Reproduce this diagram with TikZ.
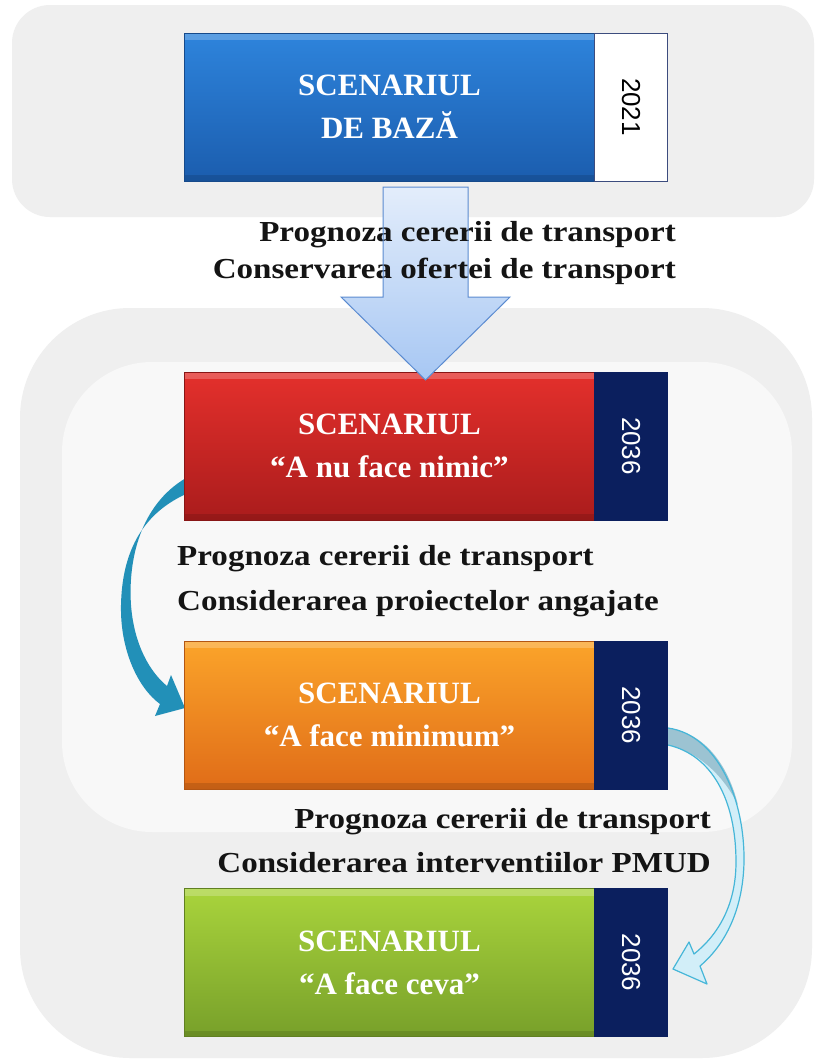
\documentclass[tikz,border=0pt]{standalone}
\usepackage{fontspec}
\setmainfont{Liberation Serif}
\newfontfamily\boxfont{Liberation Serif Bold}
\newfontfamily\lblfont[FakeStretch=1.14]{Liberation Serif Bold}
\newfontfamily\yearfont{Liberation Sans}
\usetikzlibrary{calc}
\definecolor{bgA}{HTML}{EFEFEF}
\definecolor{bgB}{HTML}{F8F8F8}
\definecolor{navy}{HTML}{0B1F5E}
\definecolor{blueT}{HTML}{2E84DC}
\definecolor{blueB}{HTML}{1B5DAE}
\definecolor{redT}{HTML}{E4302C}
\definecolor{redB}{HTML}{AA1C1C}
\definecolor{oraT}{HTML}{FBA42A}
\definecolor{oraB}{HTML}{E06C18}
\definecolor{greT}{HTML}{A9D43C}
\definecolor{greB}{HTML}{78A02A}
\definecolor{arrT}{HTML}{E3EDFB}
\definecolor{arrB}{HTML}{A7C7F3}
\definecolor{arrL}{HTML}{5B8BD0}
\definecolor{teal1}{HTML}{2290B8}
\definecolor{cyanF}{HTML}{D2EEF8}
\definecolor{cyanL}{HTML}{45B6D8}
\definecolor{cyanD}{HTML}{9CC3D2}
\begin{document}
\begin{tikzpicture}[x=1pt,y=-1pt,
  scen/.style={minimum width=410pt, minimum height=148pt, inner sep=0pt, align=center,
    text=white, font=\boxfont\fontsize{31}{43}\selectfont, draw=#1!80!black, line width=0.6pt,
    path picture={\fill[white,opacity=0.22] (path picture bounding box.north west) rectangle ([yshift=-7pt]path picture bounding box.north east);
                  \fill[black,opacity=0.12] (path picture bounding box.south west) rectangle ([yshift=6pt]path picture bounding box.south east);}},
  yearbox/.style={minimum width=73pt, minimum height=148pt, inner sep=0pt, fill=navy, draw=navy,
    text=white, font=\yearfont\fontsize{26}{30}\selectfont},
  lbl/.style={inner sep=0pt, font=\lblfont\fontsize{29}{34}\selectfont, text=black!92},
]
\useasboundingbox (0,0) rectangle (816,1061);
\fill[white] (0,0) rectangle (816,1061);
% backgrounds
\fill[bgA, rounded corners=38pt] (12,5) rectangle (814,217);
\fill[bgA, rounded corners=110pt] (20,308) rectangle (812,1058);
\fill[bgB, rounded corners=90pt] (62,362) rectangle (792,832);

% curved arrows (behind boxes)
\coordinate (c1s) at (186,486);
\coordinate (c1e) at (185,708);
\fill[teal1] (186,478) .. controls (140,505) and (128,560) .. (131,605)
   .. controls (134,645) and (150,672) .. (167,686) -- (171,675) -- (c1e) -- (155,716) -- (160,704)
   .. controls (138,688) and (120,650) .. (121,605) .. controls (122,555) and (140,515) .. (186,494) -- cycle;

\coordinate (c2s) at (668,736);
\coordinate (c2e) at (673,969);
\fill[cyanF] (668,728) .. controls (718,735) and (745,800) .. (744,862)
   .. controls (743,910) and (725,945) .. (700,966) -- (707,984) -- (c2e) -- (689,942) -- (694,954)
   .. controls (718,935) and (736,905) .. (736,862) .. controls (736,800) and (712,755) .. (668,745) -- cycle;
\fill[cyanD] (668,728) .. controls (705,733) and (728,765) .. (738,805) .. controls (725,778) and (700,752) .. (668,745) -- cycle;
\draw[cyanL, line width=1.2pt, line join=round] (668,728) .. controls (718,735) and (745,800) .. (744,862)
   .. controls (743,910) and (725,945) .. (700,966) -- (707,984) -- (c2e) -- (689,942) -- (694,954)
   .. controls (718,935) and (736,905) .. (736,862) .. controls (736,800) and (712,755) .. (668,745);

% scenario boxes
\node[scen=blueB, top color=blueT, bottom color=blueB] (base) at (389.5,107) {SCENARIUL\\DE BAZĂ};
\node[yearbox, fill=white, draw=navy!80, text=black] (y1) at (631,107) {\rotatebox{-90}{2021}};
\node[scen=redB, top color=redT, bottom color=redB] (nimic) at (389.5,446) {SCENARIUL\\“A nu face nimic”};
\node[yearbox] (y2) at (631,446) {\rotatebox{-90}{2036}};
\node[scen=oraB, top color=oraT, bottom color=oraB] (minim) at (389.5,715) {SCENARIUL\\“A face minimum”};
\node[yearbox] (y3) at (631,715) {\rotatebox{-90}{2036}};
\node[scen=greB, top color=greT, bottom color=greB] (ceva) at (389.5,962.5) {SCENARIUL\\“A face ceva”};
\node[yearbox] (y4) at (631,962.5) {\rotatebox{-90}{2036}};

% down block arrow
\coordinate (d0) at (425.5,187);
\coordinate (d1) at (425.5,380);
\path[top color=arrT, bottom color=arrB]
  ($(d0)+(-42.5,0)$) -- ($(d0)+(42.5,0)$) -- ($(d0)+(42.5,110)$) -- ($(d0)+(84.5,110)$) -- (d1)
  -- ($(d0)+(-84.5,110)$) -- ($(d0)+(-42.5,110)$) -- cycle;

% labels
\node[lbl, anchor=base east] (l1a) at (676,241) {Prognoza cererii de transport};
\node[lbl, anchor=base east] (l1b) at (676,278) {Conservarea ofertei de transport};
\node[lbl, anchor=base west] (l2a) at (177,565) {Prognoza cererii de transport};
\node[lbl, anchor=base west] (l2b) at (177,610) {Considerarea proiectelor angajate};
\node[lbl, anchor=base east] (l3a) at (711,828) {Prognoza cererii de transport};
\node[lbl, anchor=base east] (l3b) at (711,872) {Considerarea interventiilor PMUD};

\draw[arrL, line width=1pt, line join=miter]
  ($(d0)+(-42.5,0)$) -- ($(d0)+(42.5,0)$) -- ($(d0)+(42.5,110)$) -- ($(d0)+(84.5,110)$) -- (d1)
  -- ($(d0)+(-84.5,110)$) -- ($(d0)+(-42.5,110)$) -- cycle;
\end{tikzpicture}
\end{document}
